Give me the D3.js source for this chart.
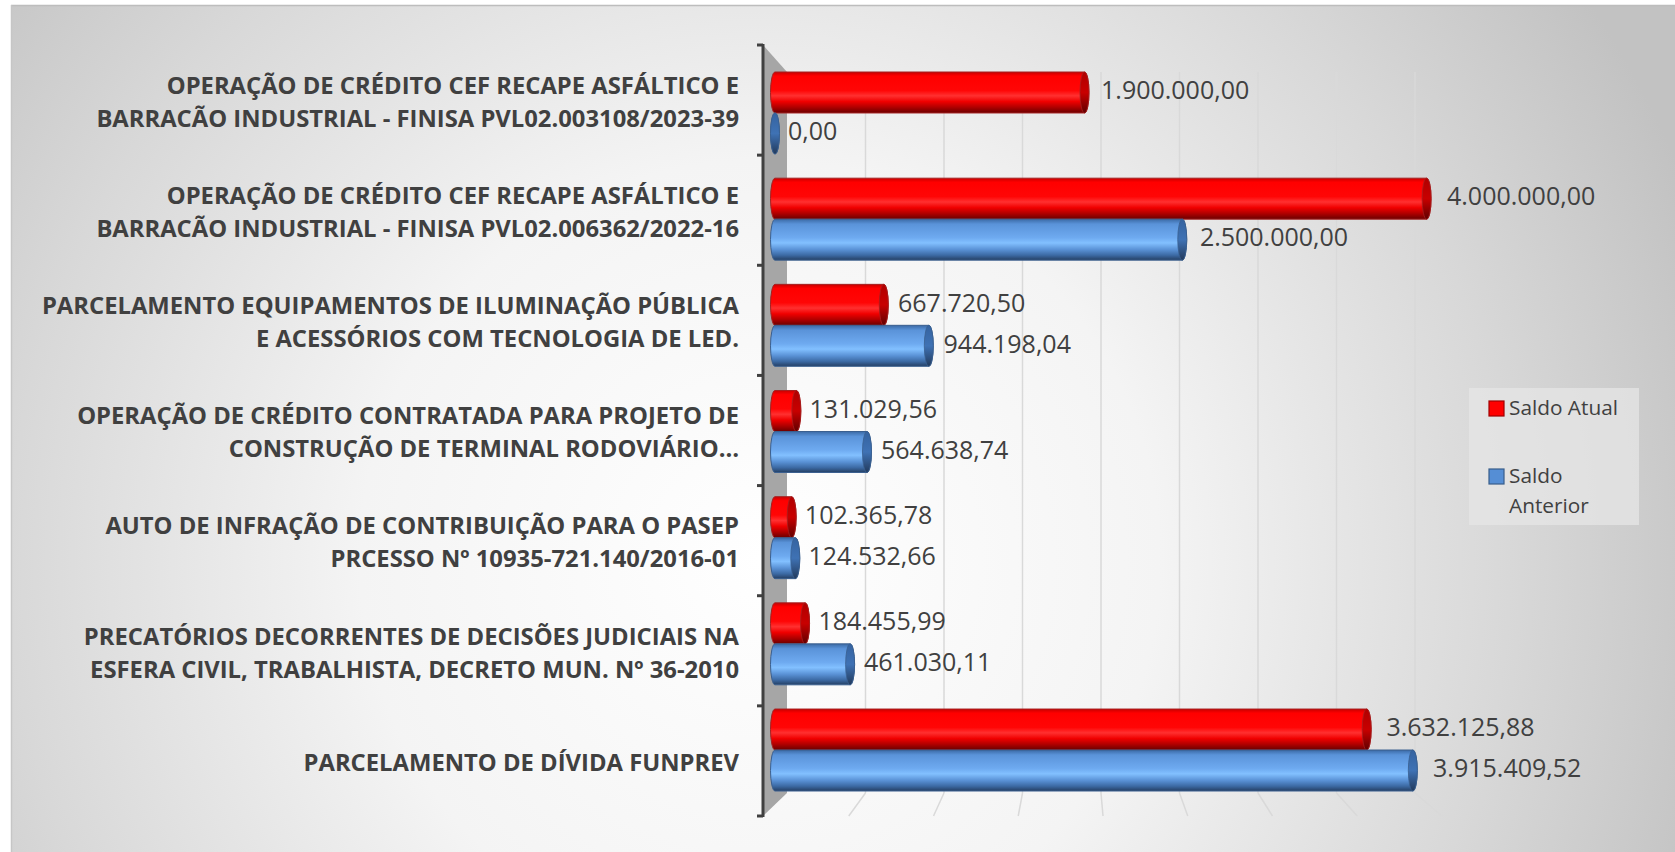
<!DOCTYPE html>
<html>
<head>
<meta charset="utf-8">
<script src="https://cdnjs.cloudflare.com/ajax/libs/d3/7.8.5/d3.min.js"></script>
<style>
  html, body { margin: 0; padding: 0; background: #fff; }
  svg { display: block; }
</style>
</head>
<body>
<div id="graph"></div>
<script>
// donnees du graphique (de haut en bas)
const categorias = [
  ['OPERAÇÃO DE CRÉDITO CEF RECAPE ASFÁLTICO E', 'BARRACÃO INDUSTRIAL - FINISA PVL02.003108/2023-39'],
  ['OPERAÇÃO DE CRÉDITO CEF RECAPE ASFÁLTICO E', 'BARRACÃO INDUSTRIAL - FINISA PVL02.006362/2022-16'],
  ['PARCELAMENTO EQUIPAMENTOS DE ILUMINAÇÃO PÚBLICA', 'E ACESSÓRIOS COM TECNOLOGIA DE LED.'],
  ['OPERAÇÃO DE CRÉDITO CONTRATADA PARA PROJETO DE', 'CONSTRUÇÃO DE TERMINAL RODOVIÁRIO…'],
  ['AUTO DE INFRAÇÃO DE CONTRIBUIÇÃO PARA O PASEP', 'PRCESSO Nº 10935-721.140/2016-01'],
  ['PRECATÓRIOS DECORRENTES DE DECISÕES JUDICIAIS NA', 'ESFERA CIVIL, TRABALHISTA, DECRETO MUN. Nº 36-2010'],
  ['PARCELAMENTO DE DÍVIDA FUNPREV']
];
const series = ['Saldo Atual', 'Saldo Anterior'];
const saldoAtual = [1900000, 4000000, 667720.50, 131029.56, 102365.78, 184455.99, 3632125.88];
const saldoAnterior = [0, 2500000, 944198.04, 564638.74, 124532.66, 461030.11, 3915409.52];
const gridTicks = [500000, 1000000, 1500000, 2000000, 2500000, 3000000, 3500000, 4000000];

const W = 1675, H = 852;
const ids = categorias.map((c, i) => 'c' + i);
const rows = ids.map((id, i) => ({ id: id, lines: categorias[i], values: [saldoAtual[i], saldoAnterior[i]] }));

const fmt = v => {
  let s = d3.format(',.2f')(v);
  return s.replace(/,/g, '#').replace('.', ',').replace(/#/g, '.');
};

let svg = d3.select('#graph').append('svg')
  .attr('width', W)
  .attr('height', H);

let defs = svg.append('defs');

let bg = defs.append('radialGradient')
  .attr('id', 'bg')
  .attr('gradientUnits', 'userSpaceOnUse')
  .attr('cx', 760).attr('cy', 560).attr('r', 1000);
[[0, '#ffffff'], [0.4, '#f4f4f4'], [0.75, '#d8d8d8'], [1, '#c2c2c2']].forEach(s =>
  bg.append('stop').attr('offset', s[0]).attr('stop-color', s[1]));

function vGrad(id, stops) {
  let g = defs.append('linearGradient').attr('id', id)
    .attr('x1', 0).attr('y1', 0).attr('x2', 0).attr('y2', 1);
  stops.forEach(s => g.append('stop').attr('offset', s[0]).attr('stop-color', s[1]));
}
vGrad('red', [[0, '#c80000'], [0.1, '#ff0000'], [0.45, '#ff0606'], [0.58, '#ff3030'], [0.72, '#f00000'], [0.86, '#b00000'], [1, '#6a0000']]);
vGrad('blue', [[0, '#3b6aa6'], [0.12, '#5a93d9'], [0.45, '#6eaaf0'], [0.58, '#82c0ff'], [0.74, '#5a92d6'], [0.88, '#3c6aa4'], [1, '#253f63']]);
vGrad('redCap', [[0, '#b00000'], [0.5, '#c80000'], [1, '#600000']]);
vGrad('blueCap', [[0, '#3563a0'], [0.5, '#3f72b4'], [1, '#223a5c']]);

const fills = { 'Saldo Atual': 'url(#red)', 'Saldo Anterior': 'url(#blue)' };
const caps = { 'Saldo Atual': 'url(#redCap)', 'Saldo Anterior': 'url(#blueCap)' };
const strokes = { 'Saldo Atual': '#a52020', 'Saldo Anterior': '#3a5f8f' };
const legendFill = { 'Saldo Atual': '#ff0000', 'Saldo Anterior': '#558ed5' };
const legendStroke = { 'Saldo Atual': '#a00000', 'Saldo Anterior': '#385d8a' };

// fond
svg.append('rect')
  .attr('x', 12).attr('y', 6)
  .attr('width', W - 12).attr('height', H - 6)
  .attr('fill', 'url(#bg)');
svg.append('line').attr('x1', 11).attr('x2', W).attr('y1', 5.5).attr('y2', 5.5)
  .attr('stroke', '#bdbdbd').attr('stroke-width', 1.5);
svg.append('line').attr('x1', 11.5).attr('x2', 11.5).attr('y1', 5).attr('y2', H)
  .attr('stroke', '#c6c6c6').attr('stroke-width', 1.5);

// echelles
const yFront = d3.scaleBand().domain(ids).range([45, 816]);
const yBar = d3.scaleBand().domain(ids).range([72, 791]).paddingInner(0.228);
const ySub = d3.scaleBand().domain(series).range([0, yBar.bandwidth()]);
const xBack = d3.scaleLinear().domain([0, 4000000]).range([787, 1415]);
const xFloor = d3.scaleLinear().domain([0, 4000000]).range([764, 1442]);
const xBar = d3.scaleLinear().domain([0, 4000000]).range([775, 1426.6]);
const xLabel = d3.scaleLinear().domain([0, 4000000]).range([788, 1447]);

// grille (plan du fond + sol)
let grid = svg.append('g').attr('class', 'grid');
grid.selectAll('line.v').data(gridTicks).join('line')
  .attr('class', 'v')
  .attr('x1', d => xBack(d)).attr('x2', d => xBack(d))
  .attr('y1', 72).attr('y2', 793)
  .attr('stroke', '#d9d9d9').attr('stroke-width', 1.5);
grid.selectAll('line.f').data(gridTicks).join('line')
  .attr('class', 'f')
  .attr('x1', d => xBack(d)).attr('x2', d => xFloor(d))
  .attr('y1', 793).attr('y2', 816)
  .attr('stroke', '#d9d9d9').attr('stroke-width', 1.5);

// mur gauche
svg.append('path')
  .attr('d', `M${xFloor(0) - 1},45 L${xBack(0)},72 L${xBack(0)},793 L${xFloor(0) - 1},816 Z`)
  .attr('fill', '#a6a6a6');

// axe vertical
let axis = d3.axisLeft(yFront).tickSize(6).tickFormat('');
let gAxis = svg.append('g')
  .attr('transform', `translate(${xFloor(0) - 1},0)`)
  .call(axis);
gAxis.select('.domain').attr('d', 'M0,44V817').attr('stroke', '#404040').attr('stroke-width', 3);
gAxis.selectAll('.tick line')
  .attr('stroke', '#404040').attr('stroke-width', 3)
  .attr('transform', `translate(0,${-yFront.bandwidth() / 2})`);
gAxis.append('line').attr('x1', -6).attr('x2', 0).attr('y1', 816).attr('y2', 816)
  .attr('stroke', '#404040').attr('stroke-width', 3);

// libelles des categories
let cats = svg.append('g').attr('class', 'cats')
  .attr('font-family', '"Open Sans", sans-serif')
  .attr('font-weight', 'bold')
  .attr('font-size', 23.8)
  .attr('fill', '#404040')
  .attr('text-anchor', 'end');
const lineH = 33;
cats.selectAll('text').data(rows).join('text')
  .attr('transform', d => `translate(739,${yFront(d.id) + yFront.bandwidth() / 2 + 2})`)
  .each(function(d) {
    let t = d3.select(this);
    let n = d.lines.length;
    d.lines.forEach((l, i) => {
      t.append('tspan').attr('x', 0)
        .attr('y', (i - (n - 1) / 2) * lineH)
        .attr('dy', '0.35em')
        .text(l);
    });
  });

// barres cylindriques
const rx = 4.5;
function cyl(x0, x1, y0, h) {
  let r = h / 2;
  return `M${x0},${y0} L${x1},${y0} A${rx},${r} 0 0 1 ${x1},${y0 + h} L${x0},${y0 + h} A${rx},${r} 0 0 1 ${x0},${y0} Z`;
}
let bars = svg.append('g').attr('class', 'bars');
let groups = bars.selectAll('g').data(rows).join('g')
  .attr('transform', d => `translate(0,${yBar(d.id)})`);
let items = groups.selectAll('g').data(d => series.map((s, i) => ({ serie: s, value: d.values[i] }))).join('g');
items.append('path')
  .attr('d', d => cyl(xBar(0), xBar(d.value), ySub(d.serie), ySub.bandwidth()))
  .attr('fill', d => fills[d.serie])
  .attr('stroke', d => strokes[d.serie])
  .attr('stroke-width', 1);
items.append('ellipse')
  .attr('cx', d => xBar(d.value))
  .attr('cy', d => ySub(d.serie) + ySub.bandwidth() / 2)
  .attr('rx', rx)
  .attr('ry', ySub.bandwidth() / 2)
  .attr('fill', d => caps[d.serie])
  .attr('stroke', d => strokes[d.serie])
  .attr('stroke-width', 0.8);

// etiquettes de valeurs
items.append('text')
  .attr('x', d => xLabel(d.value))
  .attr('y', d => ySub(d.serie) + ySub.bandwidth() / 2 - 2)
  .attr('dy', '0.35em')
  .attr('font-family', '"Open Sans", sans-serif')
  .attr('font-size', 25)
  .attr('fill', '#404040')
  .text(d => fmt(d.value));

// legende
let legend = svg.append('g').attr('class', 'legend')
  .attr('font-family', '"Open Sans", sans-serif')
  .attr('font-size', 20.8)
  .attr('fill', '#404040');
legend.append('rect')
  .attr('x', 1469).attr('y', 388).attr('width', 170).attr('height', 137)
  .attr('fill', '#e6e6e6').attr('fill-opacity', 0.75);
const legendRows = [
  { serie: 'Saldo Atual', lines: ['Saldo Atual'], y: 401 },
  { serie: 'Saldo Anterior', lines: ['Saldo', 'Anterior'], y: 469 }
];
legend.selectAll('rect.sw').data(legendRows).join('rect')
  .attr('class', 'sw')
  .attr('x', 1489).attr('y', d => d.y).attr('width', 15).attr('height', 15)
  .attr('fill', d => legendFill[d.serie])
  .attr('stroke', d => legendStroke[d.serie]).attr('stroke-width', 1.2);
legend.selectAll('text').data(legendRows).join('text')
  .each(function(d) {
    let t = d3.select(this);
    d.lines.forEach((l, i) => {
      t.append('tspan').attr('x', 1509).attr('y', d.y + 14 + i * 30).text(l);
    });
  });
</script>
</body>
</html>
